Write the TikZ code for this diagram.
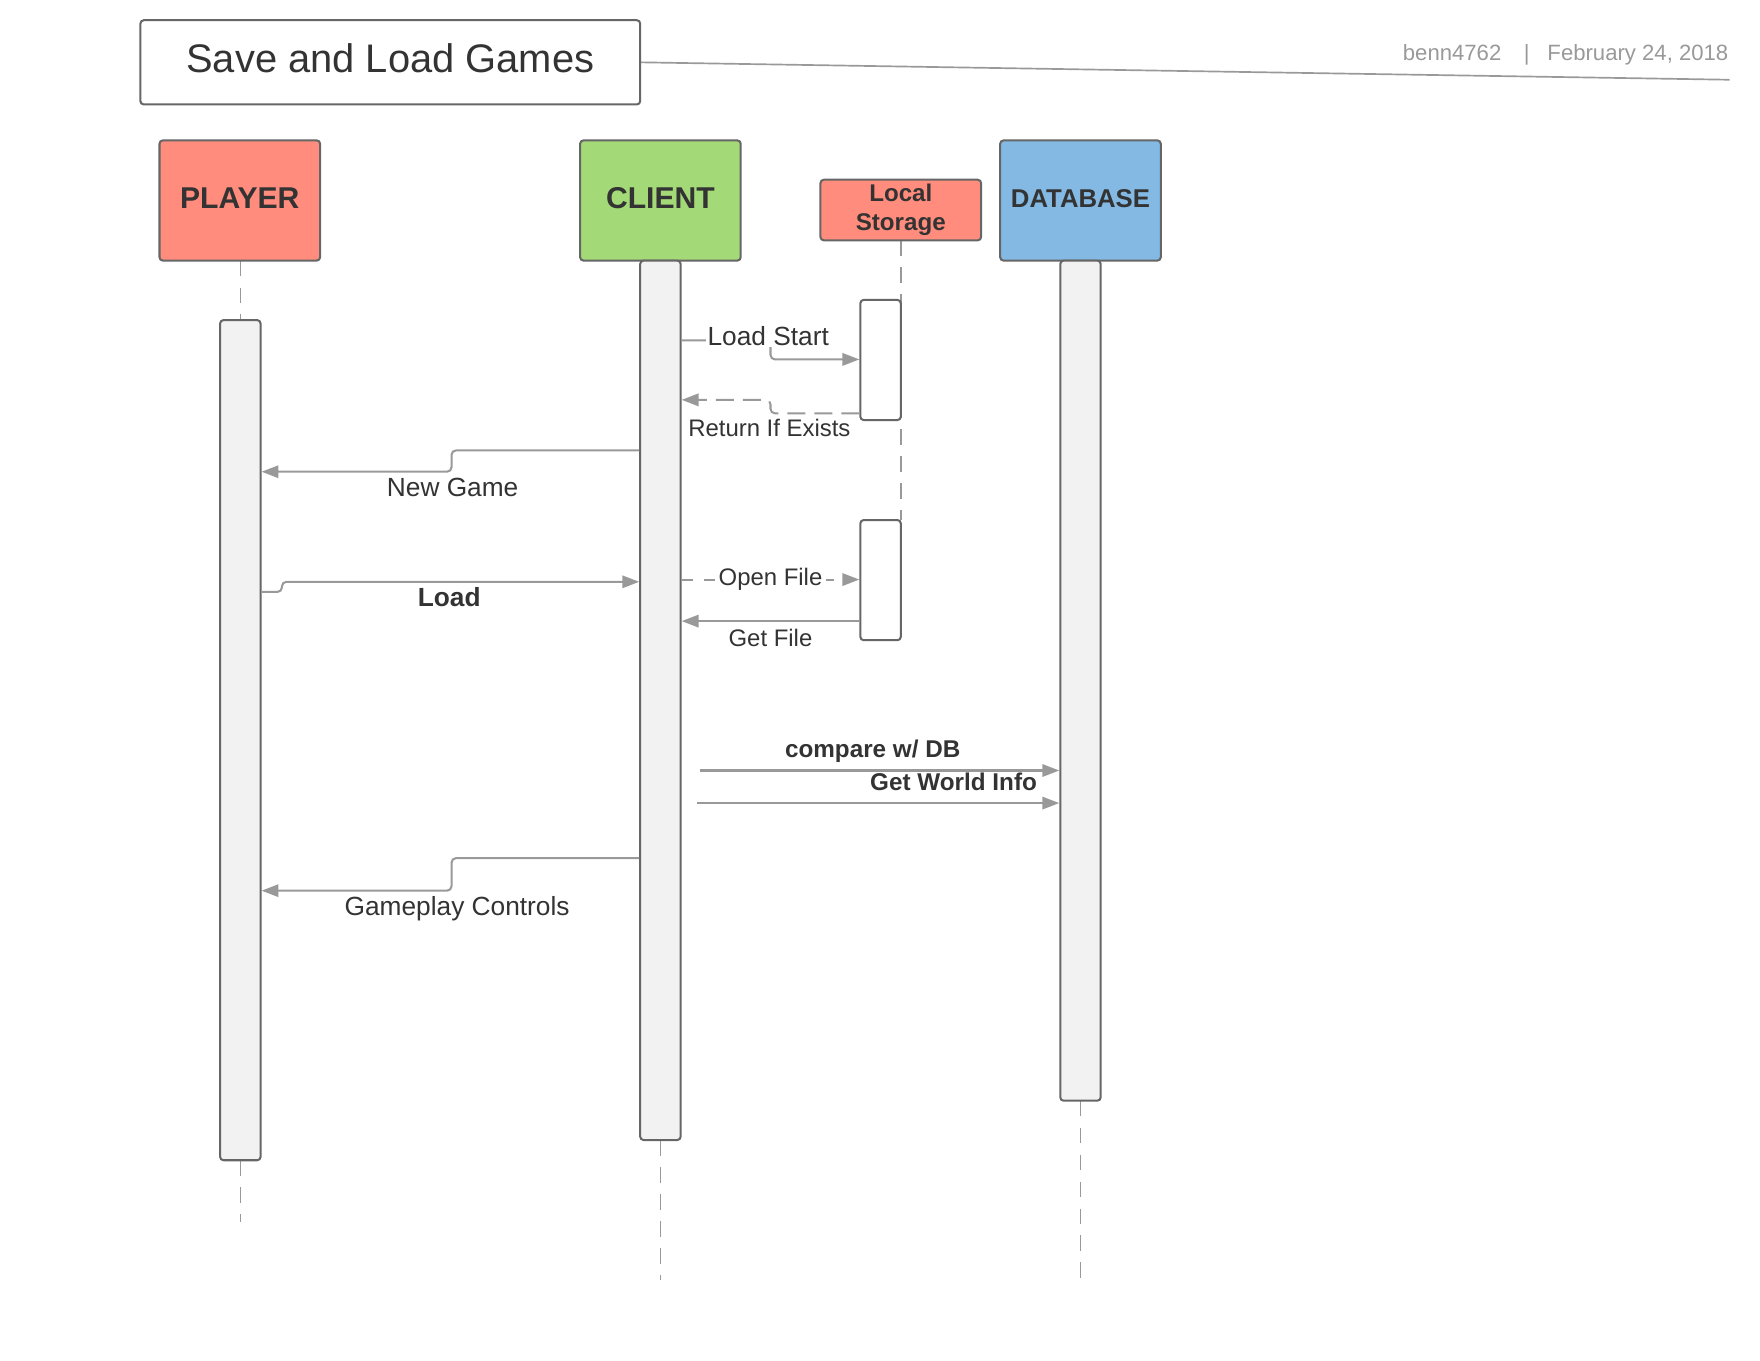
\documentclass[tikz,border=0pt]{standalone}
\usepackage{fontspec}
\setmainfont{Liberation Sans}
\usetikzlibrary{arrows.meta}
\definecolor{txt}{HTML}{333333}
\definecolor{edge}{HTML}{666666}
\definecolor{ln}{HTML}{999999}
\definecolor{salmon}{HTML}{FF8C7C}
\definecolor{grn}{HTML}{A3D977}
\definecolor{blu}{HTML}{83B9E3}
\definecolor{bar}{HTML}{F2F2F2}
\begin{document}
\begin{tikzpicture}[x=1pt,y=-1pt,
  hdr/.style={draw=edge, line width=1.8pt, rounded corners=3pt, minimum width=143pt, minimum height=107pt, inner sep=0pt, text=txt, font=\fontsize{26.8}{30}\selectfont\bfseries},
  actbar/.style={draw=edge, line width=1.8pt, rounded corners=3pt, fill=bar, minimum width=36pt, inner sep=0pt},
  life/.style={draw=ln, line width=1.5pt, dash pattern=on 14pt off 10pt},
  msg/.style={draw=ln, line width=1.8pt, rounded corners=4pt, -{Triangle[length=15pt,width=11pt]}},
  dmsg/.style={msg, dash pattern=on 16pt off 8pt},
  lbl/.style={text=txt, font=\fontsize{23.4}{28}\selectfont, inner sep=1pt, anchor=base},
  slbl/.style={lbl, font=\fontsize{21.3}{26}\selectfont},
  blbl/.style={lbl, font=\fontsize{21.6}{26}\selectfont\bfseries}]
\useasboundingbox (0,0) rectangle (1567,1211);

% title
\node[draw=edge, line width=1.8pt, rounded corners=3pt, minimum width=445pt, minimum height=75pt, inner sep=0pt, text=txt, font=\fontsize{35.5}{40}\selectfont] (title) at (347.5,55.5) {\raisebox{8pt}{Save and Load Games}};
\coordinate (lineend) at (1540,71);
\draw[ln, line width=1.5pt] (title.east) -- (lineend);
\node[anchor=base east, inner sep=0pt, text=ln, font=\fontsize{19.7}{24}\selectfont] (meta) at (1539,54) {benn4762\hspace{20pt}|\hspace{16pt}February 24, 2018};

% lifelines
\draw[life] (214,232) -- (214,285);
\draw[life] (214,1033) -- (214,1088);
\draw[life] (588,1015) -- (588,1140);
\draw[life] (802,214) -- (802,463);
\draw[life] (962,980) -- (962,1140);

% headers
\node[hdr, fill=salmon] (player) at (213.5,178.5) {\raisebox{4.5pt}{PLAYER}};
\node[hdr, fill=grn] (client) at (588,178.5) {\raisebox{4.5pt}{CLIENT}};
\node[hdr, fill=blu, font=\fontsize{22.9}{27}\selectfont\bfseries] (database) at (962,178.5) {\raisebox{3pt}{DATABASE}};
\node[hdr, fill=salmon, minimum height=54pt, align=center, font=\fontsize{21.5}{26}\selectfont\bfseries] (local) at (802,187) {\raisebox{3.5pt}{\parbox{140pt}{\centering Local\\Storage}}};

% activation bars
\node[actbar, minimum height=748pt] (pb) at (214,659) {};
\node[actbar, minimum height=783pt] (cb) at (588,623.5) {};
\node[actbar, minimum height=748pt] (db) at (962,606) {};
\node[actbar, fill=white, minimum height=107pt] (ls1) at (784,320.5) {};
\node[actbar, fill=white, minimum height=107pt] (ls2) at (784,516.5) {};

% messages
\draw[msg] (cb.east |- 0,303) -- (686,303) -- (686,320) -- (ls1.west |- 0,320);
\node[lbl, fill=white] (m1) at (684,308) {Load Start};

\draw[dmsg] (ls1.west |- 0,368) -- (686,368) -- (686,356) -- (cb.east |- 0,356);
\node[slbl] (m2) at (685,389) {Return If Exists};

\draw[msg] (cb.west |- 0,401) -- (402,401) -- (402,420) -- (pb.east |- 0,420);
\node[lbl] (m3) at (403,442) {New Game};

\draw[msg] (pb.east |- 0,527) -- (251,527) -- (251,518) -- (cb.west |- 0,518);
\node[lbl, font=\fontsize{23.4}{28}\selectfont\bfseries] (m4) at (400,540) {Load};

\draw[dmsg, dash pattern=on 10pt off 10pt on 14pt off 8pt] (cb.east |- 0,516) -- (ls2.west |- 0,516);
\node[slbl, fill=white, inner xsep=3pt] (m5) at (686,521) {Open File};

\draw[msg] (ls2.west |- 0,553) -- (cb.east |- 0,553);
\node[slbl] (m6) at (686,576) {Get File};

\coordinate (c7) at (623,686);
\draw[msg] (c7) -- (db.west |- c7);
\node[blbl] (m7) at (777,674) {compare w/ DB};

\coordinate (c8) at (621,715);
\draw[msg] (c8) -- (db.west |- c8);
\node[blbl] (m8) at (849,704) {Get World Info};

\draw[msg] (cb.west |- 0,764) -- (402,764) -- (402,793) -- (pb.east |- 0,793);
\node[lbl] (m9) at (407,815) {Gameplay Controls};
\end{tikzpicture}
\end{document}
